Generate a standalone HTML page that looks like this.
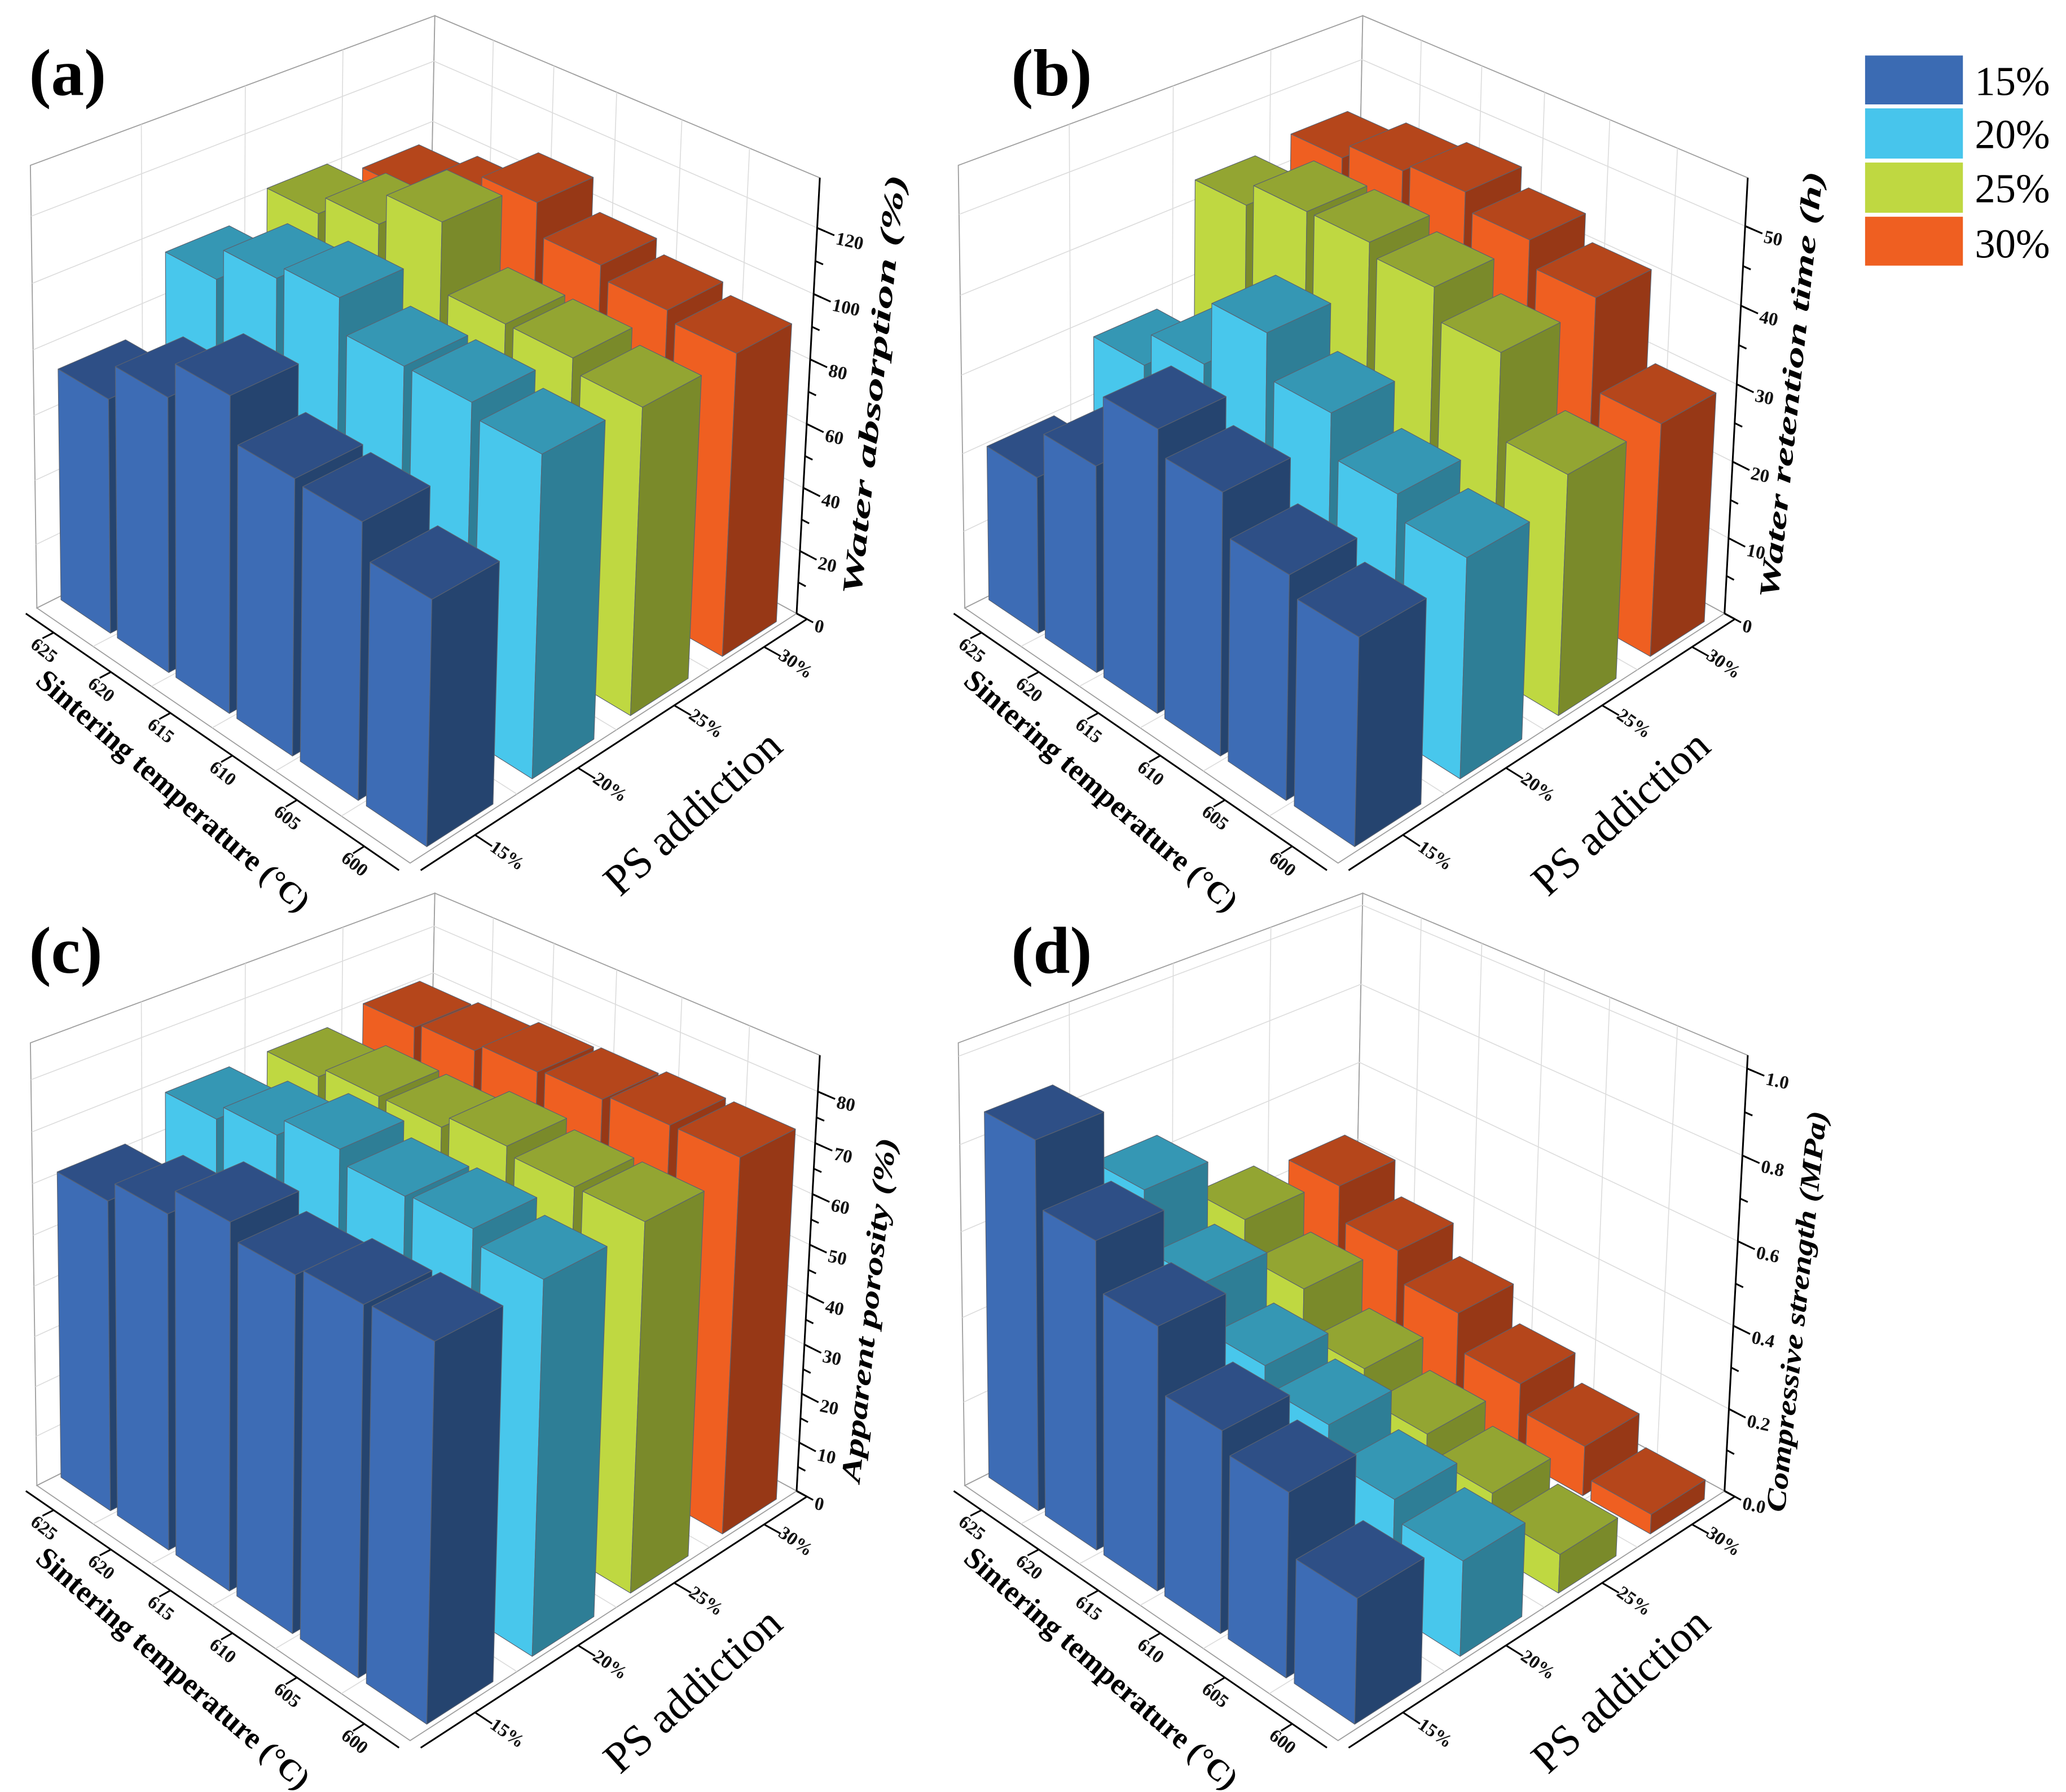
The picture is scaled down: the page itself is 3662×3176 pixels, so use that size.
<!DOCTYPE html>
<html><head><meta charset="utf-8"><style>
html,body{margin:0;padding:0;background:#fff;}
svg{display:block;}
text{font-family:"Liberation Serif","DejaVu Serif",serif;}
</style></head><body>
<svg id="fig" width="3662" height="3176" viewBox="0 0 1563 1356" preserveAspectRatio="none">
<rect x="0" y="0" width="1563" height="1356" fill="#fff"/>
<g id="panels"></g>
<g id="legend">
  <rect x="1411" y="42" width="74" height="37" fill="#3b6bb3"/>
  <text x="1494" y="72" font-size="31">15%</text>
  <rect x="1411" y="82" width="74" height="38" fill="#47c5ec"/>
  <text x="1494" y="112" font-size="31">20%</text>
  <rect x="1411" y="123" width="74" height="38" fill="#bfd841"/>
  <text x="1494" y="153" font-size="31">25%</text>
  <rect x="1411" y="164" width="74" height="37" fill="#ef5f21"/>
  <text x="1494" y="195" font-size="31">30%</text>
</g>
</svg>
<script>
// ---- data ----
const tempLabels = ['600','605','610','615','620','625'];
const psLabels = ['15%','20%','25%','30%'];
// (a) water absorption (%)
const waterAbs15 = [70, 80, 81, 94, 83, 72];
const waterAbs20 = [94, 98, 98, 108, 104, 94];
const waterAbs25 = [92, 96, 96, 117, 107, 101];
const waterAbs30 = [93, 96, 100, 110, 100, 95];
// (b) water retention time (h)
const waterRet15 = [24.7, 27, 32, 35, 26, 20];
const waterRet20 = [26.8, 29.7, 35, 40.5, 32.4, 28];
const waterRet25 = [30, 40.5, 44.4, 46, 46, 43];
const waterRet30 = [29.8, 41.4, 44.7, 47, 46, 44];
// (c) apparent porosity (%)
const porosity15 = [69, 68.5, 67, 70, 65, 61];
const porosity20 = [70, 72.5, 72, 74.5, 71, 68];
const porosity25 = [71, 71, 72.5, 70, 70, 68];
const porosity30 = [74, 74, 73, 72.5, 71, 70];
// (d) compressive strength (MPa)
const strength15 = [0.275, 0.41, 0.455, 0.60, 0.71, 0.86];
const strength20 = [0.215, 0.26, 0.34, 0.39, 0.50, 0.64];
const strength25 = [0.09, 0.14, 0.19, 0.26, 0.37, 0.46];
const strength30 = [0.047, 0.12, 0.185, 0.275, 0.35, 0.435];
const ticksA = [0,20,40,60,80,100,120];
const ticksB = [0,10,20,30,40,50];
const ticksC = [0,10,20,30,40,50,60,70,80];
const ticksD = [0,0.2,0.4,0.6,0.8,1.0];

// ---- projection (fit once on panel a geometry) ----
const corr = [
  [0,0,0,318,650],[1,0,0,22,460],[0,1,0,594,476],[1,0,1,22,128],
  [0,1,1,622,131],[1,1,1,328,17],[0,1,100/135,615,221],[0,1,120/135,619,168],[1,1,0,330,305]
];
function solve(A,b){
  const n=b.length;
  for(let i=0;i<n;i++){
    let p=i;for(let r=i+1;r<n;r++) if(Math.abs(A[r][i])>Math.abs(A[p][i])) p=r;
    [A[i],A[p]]=[A[p],A[i]];[b[i],b[p]]=[b[p],b[i]];
    for(let r=i+1;r<n;r++){const f=A[r][i]/A[i][i];for(let c=i;c<n;c++)A[r][c]-=f*A[i][c];b[r]-=f*b[i];}
  }
  const x=new Array(n).fill(0);
  for(let i=n-1;i>=0;i--){let s=b[i];for(let c=i+1;c<n;c++)s-=A[i][c]*x[c];x[i]=s/A[i][i];}
  return x;
}
const rows=[],rhs=[];
corr.forEach(([X,Y,Z,x,y])=>{
  rows.push([X,Y,Z,1,0,0,0,0,-x*X,-x*Y,-x*Z]);rhs.push(x);
  rows.push([0,0,0,0,X,Y,Z,1,-y*X,-y*Y,-y*Z]);rhs.push(y);
});
const N=[],nb=[];
for(let i=0;i<11;i++){N.push(new Array(11).fill(0));nb.push(0);
  for(let r=0;r<rows.length;r++){nb[i]+=rows[r][i]*rhs[r];for(let j=0;j<11;j++)N[i][j]+=rows[r][i]*rows[r][j];}}
const P=solve(N,nb);
function proj(u,v,w,ox,oy){
  const d=P[8]*u+P[9]*v+P[10]*w+1;
  return [(P[0]*u+P[1]*v+P[2]*w+P[3])/d+ox,(P[4]*u+P[5]*v+P[6]*w+P[7])/d+oy];
}

const NS='http://www.w3.org/2000/svg';
const root=document.getElementById('panels');
function mk(tag,attrs,parent){const e=document.createElementNS(NS,tag);for(const k in attrs)e.setAttribute(k,attrs[k]);parent.appendChild(e);return e;}
function pts(arr){return arr.map(p=>p[0].toFixed(2)+','+p[1].toFixed(2)).join(' ');}

const colors=[
  {l:'#3d6cb5',r:'#25446f',t:'#2e4f86'},
  {l:'#48c7ec',r:'#2e7e96',t:'#3597b4'},
  {l:'#bfd841',r:'#7a8a2a',t:'#93a532'},
  {l:'#ef5f21',r:'#973816',t:'#b5461b'}
];
const panels=[
  {key:'a',ox:0,oy:0,zmax:135,ticks:ticksA,minor:10,fmt:v=>String(v),title:'Water absorption (%)',series:[waterAbs15,waterAbs20,waterAbs25,waterAbs30],tp:[668,292],tl:320},
  {key:'b',ox:702,oy:0,zmax:56,ticks:ticksB,minor:5,fmt:v=>String(v),title:'Water retention time (h)',series:[waterRet15,waterRet20,waterRet25,waterRet30],tp:[1362,292],tl:325},
  {key:'c',ox:0,oy:664,zmax:87,ticks:ticksC,minor:5,fmt:v=>String(v),title:'Apparent porosity (%)',series:[porosity15,porosity20,porosity25,porosity30],tp:[664,992],tl:262},
  {key:'d',ox:702,oy:664,zmax:1.03,ticks:ticksD,minor:0.1,fmt:v=>v.toFixed(1),title:'Compressive strength (MPa)',series:[strength15,strength20,strength25,strength30],tp:[1366,993],tl:305}
];
const fu=0.88,fv=0.62,nT=tempLabels.length,nP=psLabels.length;

panels.forEach(pn=>{
  const g=mk('g',{},root);
  
  
  const Q=(u,v,w)=>proj(u,v,w,pn.ox,pn.oy);
  const wallL=mk('polygon',{points:pts([Q(1,0,0),Q(1,1,0),Q(1,1,1),Q(1,0,1)]),fill:'#fff',stroke:'#a0a0a0','stroke-width':0.8},g);
  
  
  const wallR=mk('polygon',{points:pts([Q(0,1,0),Q(1,1,0),Q(1,1,1),Q(0,1,1)]),fill:'#fff',stroke:'#a0a0a0','stroke-width':0.8},g);
  
  
  const floor=mk('polygon',{points:pts([Q(0,0,0),Q(1,0,0),Q(1,1,0),Q(0,1,0)]),fill:'#fff',stroke:'#a0a0a0','stroke-width':0.8},g);
  
  
  const grid=mk('g',{stroke:'#dcdcdc','stroke-width':0.7,fill:'none'},g);
  
  
  for(let j=1;j<nP;j++){const a=Q(1,j/nP,0),b=Q(1,j/nP,1);mk('line',{x1:a[0],y1:a[1],x2:b[0],y2:b[1]},grid);
    const c=Q(0,j/nP,0),d=Q(1,j/nP,0);mk('line',{x1:c[0],y1:c[1],x2:d[0],y2:d[1]},grid);}
  for(let i=1;i<nT;i++){const a=Q(i/nT,1,0),b=Q(i/nT,1,1);mk('line',{x1:a[0],y1:a[1],x2:b[0],y2:b[1]},grid);
    const c=Q(i/nT,0,0),d=Q(i/nT,1,0);mk('line',{x1:c[0],y1:c[1],x2:d[0],y2:d[1]},grid);}
  pn.ticks.forEach(t=>{if(t===0)return;const w=t/pn.zmax;const a=Q(0,1,w),b=Q(1,1,w),c=Q(1,0,w);
    mk('polyline',{points:pts([a,b,c])},grid);});
  const order=[];
  for(let i=0;i<nT;i++)for(let j=0;j<nP;j++)order.push([i,j]);
  order.sort((p,q)=>(q[0]+q[1])-(p[0]+p[1])||(q[1]-p[1]));
  const bars=mk('g',{stroke:'#5a6270','stroke-width':0.5,'stroke-linejoin':'round'},g);
  
  
  order.forEach(([i,j])=>{
    const val=pn.series[j][i],w=val/pn.zmax,col=colors[j];
    const u0=i/nT+(1-fu)/(2*nT),u1=u0+fu/nT,v0=j/nP+(1-fv)/(2*nP),v1=v0+fv/nP;
    const bg=mk('g',{},bars);
    
    
    mk('polygon',{points:pts([Q(u0,v0,0),Q(u1,v0,0),Q(u1,v0,w),Q(u0,v0,w)]),fill:col.l},bg);
    mk('polygon',{points:pts([Q(u0,v0,0),Q(u0,v1,0),Q(u0,v1,w),Q(u0,v0,w)]),fill:col.r},bg);
    mk('polygon',{points:pts([Q(u0,v0,w),Q(u1,v0,w),Q(u1,v1,w),Q(u0,v1,w)]),fill:col.t},bg);
  });
  const ax=mk('g',{stroke:'#000','stroke-width':1.3,fill:'none'},g);
  
  
  const off=-0.025;
  let a=Q(0,off,0),b=Q(1,off,0);
  mk('line',{x1:a[0],y1:a[1],x2:b[0],y2:b[1]},ax);
  a=Q(off,0,0);b=Q(off,1,0);
  mk('line',{x1:a[0],y1:a[1],x2:b[0],y2:b[1]},ax);
  a=Q(off,1,0);b=Q(0,1,0);
  mk('line',{x1:a[0],y1:a[1],x2:b[0],y2:b[1]},ax);
  a=Q(0,1,0);b=Q(0,1,1);
  mk('line',{x1:a[0],y1:a[1],x2:b[0],y2:b[1]},ax);
  const lab=mk('g',{'font-weight':'bold','font-size':14,fill:'#111'},g);
  
  
  tempLabels.forEach((t,i)=>{
    const u=(i+0.5)/nT;const p1=Q(u,off,0),p2=Q(u,off-0.025,0);
    mk('line',{x1:p1[0],y1:p1[1],x2:p2[0],y2:p2[1]},ax);
    const lx=p1[0]-10,ly=p1[1]+17;
    const tx=mk('text',{x:lx,y:ly,'text-anchor':'middle',transform:`rotate(38 ${lx} ${ly})`},lab);
    tx.textContent=t;
    
    
  });
  psLabels.forEach((t,j)=>{
    const v=(j+0.5)/nP;const p1=Q(off,v,0),p2=Q(off-0.04,v,0);
    mk('line',{x1:p1[0],y1:p1[1],x2:p2[0],y2:p2[1]},ax);
    const p=Q(-0.10,v,0);
    const tx=mk('text',{x:p[0],y:p[1]+4,'text-anchor':'middle',transform:`rotate(35 ${p[0]} ${p[1]})`},lab);
    tx.textContent=t;
    
    
  });
  const top=pn.ticks[pn.ticks.length-1];
  for(let m=0;m<=top+1e-9;m+=pn.minor){
    const w=m/pn.zmax;const p1=Q(0,1,w),p2=Q(-0.018,1,w);
    mk('line',{x1:p1[0],y1:p1[1],x2:p2[0],y2:p2[1]},ax);
  }
  pn.ticks.forEach(t=>{
    const w=t/pn.zmax;const p1=Q(0,1,w),p2=Q(-0.04,1,w);
    mk('line',{x1:p1[0],y1:p1[1],x2:p2[0],y2:p2[1]},ax);
    const p=Q(-0.045,1,w);
    const tx=mk('text',{x:p[0],y:p[1]+6,'text-anchor':'start',transform:`rotate(12 ${p[0]} ${p[1]})`},lab);
    tx.textContent=pn.fmt(t);
    
    
  });
  const tt=mk('text',{x:pn.ox+126,y:pn.oy+604,'text-anchor':'middle','font-size':23,'font-weight':'bold',transform:`rotate(41 ${pn.ox+126} ${pn.oy+604})`},g);
  tt.textContent='Sintering temperature (\u00B0C)';
  
  
  const pt=mk('text',{x:pn.ox+524,y:pn.oy+626,'text-anchor':'middle','font-size':33,transform:`rotate(-42 ${pn.ox+524} ${pn.oy+615})`},g);
  pt.textContent='PS addiction';
  
  
  const zt=mk('text',{x:pn.tp[0],y:pn.tp[1],'text-anchor':'middle','font-size':21,'font-weight':'bold','font-style':'italic',textLength:pn.tl,lengthAdjust:'spacingAndGlyphs',transform:`rotate(-84 ${pn.tp[0]} ${pn.tp[1]})`},g);
  zt.textContent=pn.title;
  
  
  const pl=mk('text',{x:pn.ox+(pn.ox?63:22),y:pn.oy+72,'font-size':50,'font-weight':'bold'},g);
  pl.textContent='('+pn.key+')';
  
  
});
</script>
</body></html>
